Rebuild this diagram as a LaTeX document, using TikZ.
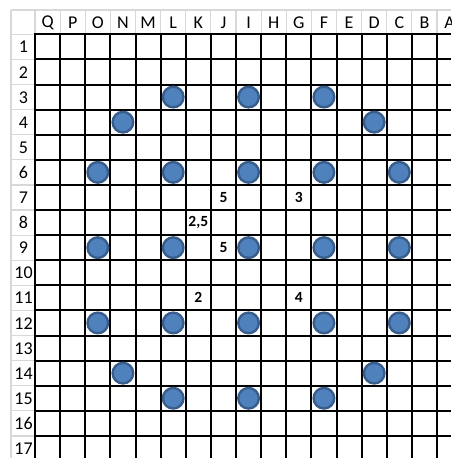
\documentclass[tikz,border=0pt]{standalone}
\usepackage{fontspec}
\setmainfont{Carlito}
\definecolor{hdrgray}{RGB}{216,216,216}
\definecolor{dotfill}{RGB}{79,129,189}
\definecolor{dotline}{RGB}{56,93,138}
\tikzset{
  hdrline/.style={draw=hdrgray, line width=1.2pt},
  gridline/.style={draw=black, line width=2pt},
  hdrtext/.style={inner sep=0pt, font=\fontsize{18}{20}\selectfont},
  numtext/.style={inner sep=0pt, font=\fontsize{15.5}{17}\selectfont\bfseries},
  dot/.style={circle, minimum size=20.6pt, inner sep=0pt, fill=dotfill, draw=dotline, line width=2.4pt}
}
\begin{document}
\begin{tikzpicture}[x=1pt,y=-1pt]
\useasboundingbox (0,0) rectangle (451,458);
\fill[white] (0,0) rectangle (451,458);
\def\cw{25.125}
\def\rh{25.1}
\def\xo{35}
\def\yo{34.3}
% header gray lines
\draw[hdrline] (11,10) -- (451,10);
\draw[hdrline] (11,10) -- (11,458);
\draw[hdrline] (11,\yo) -- (\xo,\yo);
\draw[hdrline] (\xo,10) -- (\xo,\yo);
\foreach \i in {1,...,17} {
  \draw[hdrline] ({\xo+\i*\cw},10) -- ({\xo+\i*\cw},\yo);
  \draw[hdrline] (11,{\yo+\i*\rh}) -- (\xo,{\yo+\i*\rh});
}
% black grid
\foreach \i in {0,...,17} {
  \draw[gridline] ({\xo+\i*\cw},\yo-1) -- ({\xo+\i*\cw},458);
  \draw[gridline] (\xo-1,{\yo+\i*\rh}) -- (451,{\yo+\i*\rh});
}
% column headers
\foreach \l [count=\i from 0] in {Q,P,O,N,M,L,K,J,I,H,G,F,E,D,C,B,A} {
  \node[hdrtext] (h\l) at ({\xo+(\i+0.5)*\cw},22.5) {\l};
}
% row headers
\foreach \r in {1,...,17} {
  \node[hdrtext] (r\r) at (23.5,{\yo+(\r-0.5)*\rh+0.3}) {\r};
}
% dots: column index (Q=0) and row
\foreach \c/\r/\n in {5/3/L3,8/3/I3,11/3/F3,
                      3/4/N4,13/4/D4,
                      2/6/O6,5/6/L6,8/6/I6,11/6/F6,14/6/C6,
                      2/9/O9,5/9/L9,8/9/I9,11/9/F9,14/9/C9,
                      2/12/O12,5/12/L12,8/12/I12,11/12/F12,14/12/C12,
                      3/14/N14,13/14/D14,
                      5/15/L15,8/15/I15,11/15/F15} {
  \node[dot] (d\n) at ({\xo+(\c+0.5)*\cw},{\yo+(\r-0.5)*\rh}) {};
}
% bold numbers
\node[numtext] (nJ7) at ({\xo+7.5*\cw},{\yo+6.5*\rh}) {5};
\node[numtext] (nG7) at ({\xo+10.5*\cw},{\yo+6.5*\rh}) {3};
\node[numtext] (nK8) at ({\xo+6.5*\cw},{\yo+7.5*\rh}) {2,5};
\node[numtext] (nJ9) at ({\xo+7.5*\cw},{\yo+8.5*\rh}) {5};
\node[numtext] (nK11) at ({\xo+6.5*\cw},{\yo+10.5*\rh}) {2};
\node[numtext] (nG11) at ({\xo+10.5*\cw},{\yo+10.5*\rh}) {4};
\end{tikzpicture}
\end{document}
